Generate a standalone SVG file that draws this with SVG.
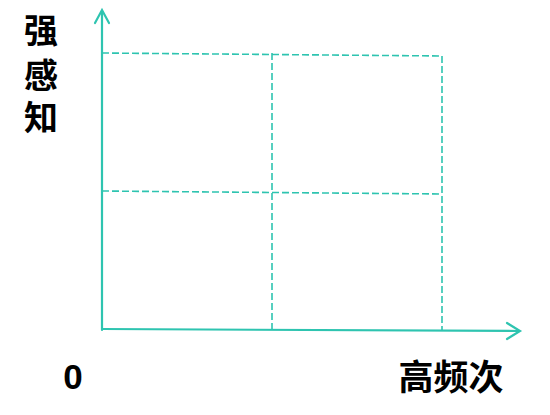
<svg xmlns="http://www.w3.org/2000/svg" width="550" height="415" viewBox="0 0 550 415">
<style>
.axis{stroke:#2ec4b0;stroke-width:2.2;fill:none;stroke-linecap:round;stroke-linejoin:miter}
.dash{stroke:#2ec4b0;stroke-width:1.6;fill:none;stroke-dasharray:7 3}
.lbl{font-family:"Liberation Sans","Noto Sans CJK SC",sans-serif;font-weight:bold;fill:#000}
</style>
<rect width="550" height="415" fill="#fff"/>
<g id="connectors">
<line class="dash" x1="102" y1="53" x2="442" y2="56"/>
<line class="dash" x1="102" y1="191" x2="442" y2="194"/>
<line class="dash" x1="272" y1="53" x2="272" y2="330"/>
<line class="dash" x1="442" y1="56" x2="442" y2="331"/>
<line class="axis" x1="102" y1="330" x2="102" y2="11"/>
<polyline class="axis" points="95,23 102,10 109,23"/>
<line class="axis" x1="102" y1="329" x2="519" y2="331"/>
<polyline class="axis" points="507,323 520,331 507,339"/>
</g>
<g id="label-y">
<text class="lbl" x="41" y="43" font-size="34" text-anchor="middle">强</text>
<text class="lbl" x="41" y="88" font-size="34" text-anchor="middle">感</text>
<text class="lbl" x="41" y="130" font-size="34" text-anchor="middle">知</text>
</g>
<g id="label-origin">
<text class="lbl" x="73" y="389" font-size="35" text-anchor="middle">0</text>
</g>
<g id="label-x">
<text class="lbl" x="451" y="390" font-size="35" text-anchor="middle">高频次</text>
</g>
</svg>
